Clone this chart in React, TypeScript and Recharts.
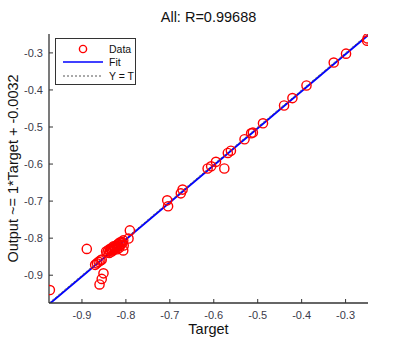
import React from "react";
import { ScatterChart, Scatter, XAxis, YAxis, ReferenceLine, Label } from "recharts";

const targets = [
  -0.973, -0.889, -0.870, -0.866, -0.862, -0.858, -0.855, -0.851, -0.855, -0.860,
  -0.845, -0.842, -0.840, -0.838, -0.836, -0.834, -0.832, -0.830, -0.828, -0.826,
  -0.824, -0.822, -0.820, -0.818, -0.816, -0.814, -0.812, -0.810, -0.808, -0.806,
  -0.835, -0.828, -0.820, -0.815, -0.805, -0.791, -0.794, -0.806,
  -0.706, -0.704, -0.675, -0.671, -0.614, -0.606, -0.595, -0.576, -0.568, -0.561,
  -0.530, -0.515, -0.511, -0.488, -0.440, -0.421, -0.389, -0.327, -0.299, -0.250, -0.251,
];
const outputs = [
  -0.940, -0.829, -0.872, -0.868, -0.864, -0.860, -0.858, -0.895, -0.910, -0.925,
  -0.836, -0.838, -0.832, -0.840, -0.834, -0.830, -0.836, -0.828, -0.832, -0.824,
  -0.828, -0.820, -0.824, -0.816, -0.820, -0.812, -0.818, -0.810, -0.814, -0.806,
  -0.828, -0.822, -0.830, -0.826, -0.820, -0.779, -0.801, -0.833,
  -0.698, -0.714, -0.679, -0.669, -0.612, -0.606, -0.594, -0.612, -0.570, -0.564,
  -0.533, -0.517, -0.515, -0.490, -0.442, -0.422, -0.388, -0.326, -0.302, -0.261, -0.267,
];
const tickValues = [-0.9, -0.8, -0.7, -0.6, -0.5, -0.4, -0.3];
const axisDomain = [-0.975, -0.249];
const fitSlope = 1;
const fitOffset = -0.0032;

const points = targets.map((t, i) => ({ x: t, y: outputs[i] }));
const fitSegment = axisDomain.map((t) => ({ x: t, y: fitSlope * t + fitOffset }));
const unitSegment = axisDomain.map((t) => ({ x: t, y: t }));

const font = "Arial, 'Liberation Sans', Helvetica, sans-serif";

const RingDot = (p: any) => (
  <circle cx={p.cx} cy={p.cy} r={4.6} fill="none" stroke="#ff0000" strokeWidth={1.4} />
);

export default function App() {
  return (
    <div style={{ position: "absolute", left: 0, top: 0, width: 401, height: 353, background: "#fff", fontFamily: font }}>
      <div style={{ position: "absolute", left: 49, width: 319, top: 9, textAlign: "center", fontSize: 14.5, color: "#111" }}>
        All: R=0.99688
      </div>
      <ScatterChart width={401} height={353} margin={{ top: 34, right: 33, bottom: 0, left: 0 }}>
        <XAxis
          xAxisId="b"
          type="number"
          dataKey="x"
          domain={axisDomain}
          ticks={tickValues}
          allowDataOverflow
          height={50}
          tickSize={-4}
          tickMargin={12}
          tick={{ fill: "#3a3a4a", fontSize: 11, fontFamily: font }}
          axisLine={{ stroke: "#333", strokeWidth: 1.3 }}
          tickLine={{ stroke: "#333" }}
        >
          <Label value="Target" position="insideBottom" offset={19} style={{ fill: "#111", fontSize: 14.5, fontFamily: font }} />
        </XAxis>
        <XAxis
          xAxisId="t"
          orientation="top"
          type="number"
          dataKey="x"
          domain={axisDomain}
          ticks={tickValues}
          allowDataOverflow
          height={0}
          tickSize={-4}
          tickFormatter={() => ""}
          axisLine={{ stroke: "#999", strokeWidth: 1.3 }}
          tickLine={{ stroke: "#333" }}
        />
        <YAxis
          yAxisId="l"
          type="number"
          dataKey="y"
          domain={axisDomain}
          ticks={tickValues}
          allowDataOverflow
          width={49}
          tickSize={-4}
          tickMargin={10}
          tick={{ fill: "#3a3a4a", fontSize: 11, fontFamily: font }}
          axisLine={{ stroke: "#333", strokeWidth: 1.3 }}
          tickLine={{ stroke: "#333" }}
        >
          <Label
            value="Output ~= 1*Target + -0.0032"
            angle={-90}
            position="insideLeft"
            offset={13}
            style={{ textAnchor: "middle", fill: "#111", fontSize: 14.5, fontFamily: font }}
          />
        </YAxis>
        <YAxis
          yAxisId="r"
          orientation="right"
          type="number"
          dataKey="y"
          domain={axisDomain}
          ticks={tickValues}
          allowDataOverflow
          width={0}
          tickSize={-4}
          tickFormatter={() => ""}
          axisLine={{ stroke: "#333", strokeWidth: 1.3 }}
          tickLine={{ stroke: "#333" }}
        />
        <ReferenceLine
          xAxisId="b"
          yAxisId="l"
          segment={fitSegment}
          stroke="#0000ff"
          strokeWidth={2}
          ifOverflow="hidden"
        />
        <ReferenceLine
          xAxisId="b"
          yAxisId="l"
          segment={unitSegment}
          stroke="#666"
          strokeDasharray="2 2"
          ifOverflow="hidden"
        />
        <Scatter xAxisId="b" yAxisId="l" data={points} shape={RingDot} isAnimationActive={false} />
      </ScatterChart>
      <div
        style={{
          position: "absolute",
          left: 55,
          top: 38,
          width: 81,
          height: 47,
          border: "1px solid #333",
          background: "#fff",
          fontSize: 10.5,
          color: "#111",
          boxSizing: "border-box",
        }}
      >
        {[
          { name: "Data", kind: "ring" },
          { name: "Fit", kind: "line" },
          { name: "Y = T", kind: "dash" },
        ].map((e, i) => (
          <div key={e.name} style={{ position: "absolute", left: 0, top: 3 + i * 13.5, height: 13, width: 81, display: "flex", alignItems: "center" }}>
            <svg width={42} height={12} style={{ marginLeft: 6 }}>
              {e.kind === "ring" && <circle cx={21} cy={6} r={3.6} fill="none" stroke="#ff0000" strokeWidth={1.4} />}
              {e.kind === "line" && <line x1={1} x2={41} y1={6} y2={6} stroke="#0000ff" strokeWidth={1.5} />}
              {e.kind === "dash" && <line x1={1} x2={41} y1={6} y2={6} stroke="#555" strokeWidth={1} strokeDasharray="2 2" />}
            </svg>
            <span style={{ marginLeft: 5 }}>{e.name}</span>
          </div>
        ))}
      </div>
    </div>
  );
}
